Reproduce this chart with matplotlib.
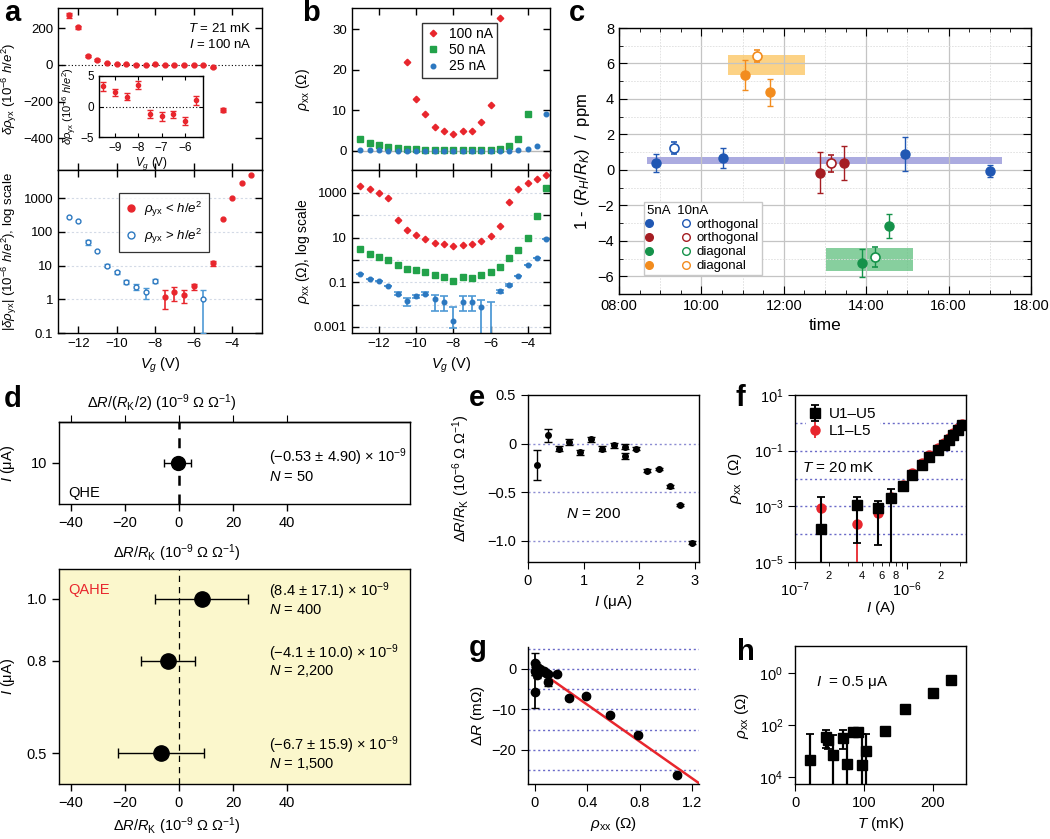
import numpy as np
import matplotlib
matplotlib.use('Agg')
import matplotlib.pyplot as plt
from matplotlib.ticker import FixedLocator, FuncFormatter, NullLocator, MultipleLocator
from matplotlib.legend_handler import HandlerTuple
from matplotlib.lines import Line2D

plt.rcParams['font.family'] = ['Liberation Sans', 'DejaVu Sans']
plt.rcParams['mathtext.fontset'] = 'custom'
plt.rcParams['mathtext.rm'] = 'Liberation Sans'
plt.rcParams['mathtext.it'] = 'Liberation Sans:italic'
plt.rcParams['mathtext.bf'] = 'Liberation Sans:bold'
plt.rcParams['mathtext.default'] = 'regular'
plt.rcParams['axes.linewidth'] = 1.0
plt.rcParams['axes.unicode_minus'] = True

# ---------------- data ----------------
# panel a
a_vg = [-12.5, -12, -11.5, -11, -10.5, -10, -9.5, -9, -8.5, -8, -7.5, -7, -6.5, -6, -5.5, -5, -4.5, -4, -3.5, -3]
a_drho = [270, 205, 50, 27, 10, 6.3, 3.3, 2.3, 1.6, 3.5, -1.2, -1.6, -1.3, -2.4, 1.0, -12, -245, -1000, -2750, -4800]
a_err = [12, 8, 6, 3, 1.2, 0.8, 0.7, 0.6, 0.6, 0.6, 0.7, 0.7, 0.6, 0.6, 0.8, 2, 10, 30, 60, 100]
a_abs_err = [0, 0, 8, 0, 1.0, 0.6, 0.5, 0.45, 0.55, 0.5, 0.7, 0.7, 0.55, 0.5, 0.899, 2.0, 0, 0, 0, 0]

# panel b
b_vg = [-13, -12.5, -12, -11.5, -11, -10.5, -10, -9.5, -9, -8.5, -8, -7.5, -7, -6.5, -6, -5.5, -5, -4.5, -4, -3.5, -3]
b_100 = [2000, 1560, 1000, 600, 65, 21.8, 12.7, 9.0, 5.8, 5.0, 4.1, 4.8, 5.0, 7.0, 11.3, 32.8, 400, 1500, 2800, 4400, 6600]
b_50 = [3.0, 1.9, 1.4, 0.97, 0.6, 0.40, 0.35, 0.30, 0.21, 0.17, 0.118, 0.166, 0.155, 0.22, 0.29, 0.49, 1.2, 2.9, 9.2, 98, 1670]
b_25 = [0.23, 0.14, 0.11, 0.07, 0.031, 0.014, 0.024, 0.031, 0.017, 0.013, 0.0018, 0.013, 0.013, 0.0077, 0.0003, 0.04, 0.074, 0.2, 0.58, 1.25, 9.0]
b_25_elo = [0, 0, 0, 0, 0.005, 0.0054, 0.004, 0.005, 0.012, 0.008, 0.0009, 0.008, 0.008, 0.00769, 0.000299, 0.006, 0.008, 0, 0, 0, 0]
b_25_ehi = [0, 0, 0, 0, 0.005, 0.005, 0.004, 0.005, 0.009, 0.011, 0.006, 0.011, 0.011, 0.0083, 0.0127, 0.006, 0.008, 0, 0, 0, 0]

# panel c (time in hours)
c_blue_t, c_blue_v, c_blue_e = [8.89, 10.52, 14.93, 17.01], [0.37, 0.67, 0.88, -0.08], [0.5, 0.57, 0.95, 0.35]
c_blue_ot, c_blue_ov, c_blue_oe = [9.33], [1.25], [0.33]
c_red_t, c_red_v, c_red_e = [12.88, 13.46], [-0.16, 0.39], [1.15, 0.98]
c_red_ot, c_red_ov, c_red_oe = [13.15], [0.37], [0.47]
c_green_t, c_green_v, c_green_e = [13.91, 14.55], [-5.26, -3.17], [0.78, 0.7]
c_green_ot, c_green_ov, c_green_oe = [14.22], [-4.92], [0.58]
c_orange_t, c_orange_v, c_orange_e = [11.06, 11.66], [5.34, 4.38], [0.85, 0.77]
c_orange_ot, c_orange_ov, c_orange_oe = [11.36], [6.43], [0.35]
c_band_blue = (8.69, 17.30, 0.35, 0.71)
c_band_orange = (10.65, 12.51, 5.36, 6.49)
c_band_green = (13.02, 15.14, -5.70, -4.43)
c_labels = ['orthogonal', 'orthogonal', 'diagonal', 'diagonal']

# panel d
d_qhe_I, d_qhe_val, d_qhe_err = [10], [-0.53], [4.90]
d_qahe_I = [1.0, 0.8, 0.5]
d_qahe_val = [8.4, -4.1, -6.7]
d_qahe_err = [17.1, 10.0, 15.9]
d_qahe_N = ['400', '2,200', '1,500']

# panel e
e_I = [0.16, 0.36, 0.55, 0.74, 0.94, 1.14, 1.34, 1.54, 1.74, 1.74, 1.95, 2.14, 2.36, 2.55, 2.74, 2.96]
e_val = [-0.22, 0.085, -0.05, 0.017, -0.09, 0.044, -0.05, -0.017, -0.03, -0.13, -0.05, -0.28, -0.26, -0.44, -0.63, -1.02]
e_err = [0.15, 0.07, 0.03, 0.03, 0.025, 0.025, 0.025, 0.025, 0.03, 0.03, 0.02, 0.015, 0.015, 0.02, 0.015, 0.015]

# panel f
f_I = [1.7e-7, 3.6e-7, 5.5e-7, 7.3e-7, 9.2e-7, 1.12e-6, 1.37e-6, 1.6e-6, 1.9e-6, 2.15e-6, 2.4e-6, 2.6e-6, 2.9e-6, 3.15e-6]
f_U = [1.5e-4, 1.1e-3, 8.7e-4, 2.0e-3, 5.3e-3, 0.0138, 0.031, 0.06, 0.11, 0.166, 0.25, 0.38, 0.575, 0.81]
f_U_elo = [1.4999e-4, 1.05e-3, 8.3e-4, 1.9999e-3, 0, 0, 0, 0, 0, 0, 0, 0, 0, 0]
f_U_ehi = [1.95e-3, 1.0e-3, 7.3e-4, 2.3e-3, 0, 0, 0, 0, 0, 0, 0, 0, 0, 0]
f_L = [8.7e-4, 2.3e-4, 5.7e-4, 2.2e-3, 6.0e-3, 0.0155, 0.035, 0.068, 0.123, 0.186, 0.28, 0.425, 0.64, 0.9]
f_L_elo = [0, 2.2999e-4, 4.7e-4, 0, 0, 0, 0, 0, 0, 0, 0, 0, 0, 0]
f_L_ehi = [0, 5e-4, 5e-4, 0, 0, 0, 0, 0, 0, 0, 0, 0, 0, 0]

# panel g
g_rho = [0.0, 0.0, 0.005, 0.01, 0.015, 0.02, 0.03, 0.04, 0.05, 0.07, 0.09, 0.1, 0.1, 0.17, 0.26, 0.39, 0.57, 0.79, 1.08]
g_dR = [1.5, -5.6, -0.5, 0.8, -1.5, 0.3, -0.8, 0.0, -0.6, -0.4, -1.0, -3.3, -1.3, -1.2, -7.2, -6.7, -11.4, -16.3, -26.3]
g_err = [2.5, 4.0, 1.0, 1.0, 0.8, 0.8, 0.6, 0.5, 0.5, 0.4, 0.4, 0.8, 0.5, 0.4, 0.4, 0.4, 0.4, 0.4, 0.4]
g_fit_slope = -22.8
g_fit_intercept = 0.3
g_fit_x = [0.0, 1.25]

# panel h
h_T = [21.7, 45, 48, 54.6, 70, 75, 83.6, 91.8, 97.6, 103, 130.4, 160, 200.5, 225.6]
h_rho = [4.4e-4, 3.6e-3, 2.7e-3, 7.2e-4, 3.2e-3, 3.2e-4, 5.4e-3, 5.4e-3, 2.8e-4, 1.0e-3, 5.9e-3, 0.04, 0.175, 0.52]
h_elo = [4.3999e-4, 2.3e-3, 1.5e-3, 7.1999e-4, 2.0e-3, 3.1999e-4, 0, 0, 2.7999e-4, 9.999e-4, 0, 0, 0, 0]
h_ehi = [4.0e-3, 2.7e-3, 1.5e-3, 3.3e-3, 3.1e-3, 3.0e-3, 0, 0, 4.1e-3, 3.4e-3, 0, 0, 0, 0]

# ---------------- figure ----------------
W, H = 1050, 839
fig = plt.figure(figsize=(10.5, 8.39), dpi=100)


def add_ax(x0, y0, x1, y1, **kw):
    return fig.add_axes([x0 / W, 1 - y1 / H, (x1 - x0) / W, (y1 - y0) / H], **kw)


def letter(x, y, s):
    fig.text(x / W, 1 - y / H, s, fontsize=21, fontweight='bold', va='baseline', ha='left')


red = '#e8262d'
blue = '#2c78c0'
blue_l = '#4f9ad6'
green = '#22a24a'
dotc = '#8c8cd2'
gridfaint = '#d3dae6'

# ---------- panel a ----------
axa1 = add_ax(58, 8, 262, 170)
axa2 = add_ax(58, 170, 262, 333)
for ax in (axa1, axa2):
    ax.tick_params(direction='in', top=True, right=True, length=5, labelsize=9.5, width=1)
    ax.set_xlim(-13.05, -2.45)
    ax.xaxis.set_major_locator(FixedLocator([-12, -10, -8, -6, -4]))
    ax.xaxis.set_minor_locator(NullLocator())
axa1.tick_params(labelbottom=False)
axa1.set_ylim(-572, 310)
axa1.set_yticks([-400, -200, 0, 200])
axa1.axhline(0, color='k', ls=(0, (1, 2)), lw=0.8, zorder=1)
axa1.errorbar(a_vg, a_drho, yerr=a_err, fmt='o', color=red, ms=3.5, capsize=2.5, elinewidth=1, capthick=1, zorder=3)
axa1.set_ylabel(r'$\mathit{\delta\rho}_{yx}$ (10$^{-6}$ $\mathit{h/e}^{2}$)', fontsize=9.5)
axa1.yaxis.set_label_coords(-0.19, 0.5)
axa1.text(0.95, 0.875, r'$\mathit{T}$ = 21 mK', transform=axa1.transAxes, ha='right', va='center', fontsize=9.5)
axa1.text(0.95, 0.775, r'$\mathit{I}$ = 100 nA', transform=axa1.transAxes, ha='right', va='center', fontsize=9.5)

axin = add_ax(99, 76, 203, 137)
axin.set_facecolor('white')
axin.set_xlim(-9.69, -5.22)
axin.set_ylim(-5, 5)
axin.set_yticks([-5, 0, 5])
axin.set_xticks([-9, -8, -7, -6])
axin.tick_params(direction='in', length=3, labelsize=8.5, top=True, right=True)
axin.axhline(0, color='k', ls=(0, (1, 2)), lw=0.8, zorder=1)
in_idx = [i for i, v in enumerate(a_vg) if -9.6 <= v <= -5.4]
axin.errorbar([a_vg[i] for i in in_idx], [a_drho[i] for i in in_idx], yerr=[a_err[i] for i in in_idx],
              fmt='o', color=red, ms=3, capsize=2.2, elinewidth=1, zorder=3)
axin.set_ylabel(r'$\mathit{\delta\rho}_{yx}$ (10$^{-6}$ $\mathit{h/e}^{2}$)', fontsize=8, labelpad=1)
axin.set_xlabel(r'$\mathit{V_g}$ (V)', fontsize=8.5, labelpad=1)

axa2.set_yscale('log')
axa2.set_ylim(0.1, 6800)
axa2.yaxis.set_major_locator(FixedLocator([0.1, 1, 10, 100, 1000]))
axa2.yaxis.set_major_formatter(FuncFormatter(lambda v, p: '%g' % v))
axa2.yaxis.set_minor_locator(NullLocator())
for d in [1, 10, 100, 1000]:
    axa2.axhline(d, color=gridfaint, lw=0.8, ls=(0, (2, 2)), zorder=0)
for i, v in enumerate(a_vg):
    val = abs(a_drho[i])
    e = a_abs_err[i]
    if a_drho[i] > 0:
        axa2.errorbar([v], [val], yerr=[[e], [e]] if e else None, fmt='o', ms=3.5, mfc='white', mec=blue,
                      mew=1, color=blue_l, capsize=2.5, elinewidth=1.2, zorder=3)
    else:
        axa2.errorbar([v], [val], yerr=[[e], [e]] if e else None, fmt='o', ms=3.5, color=red,
                      capsize=2.5, elinewidth=1.2, zorder=3)
axa2.set_xlabel(r'$\mathit{V_g}$ (V)', fontsize=10.5)
axa2.set_ylabel(r'|$\mathit{\delta\rho}_{yx}$| (10$^{-6}$ $\mathit{h/e}^{2}$), log scale', fontsize=9.5)
axa2.yaxis.set_label_coords(-0.19, 0.5)
hl = [Line2D([], [], marker='o', ls='none', color=red, ms=5),
      Line2D([], [], marker='o', ls='none', mfc='white', mec=blue, ms=5)]
lg = axa2.legend(hl, [r'$\mathit{\rho}_{yx}$ < $\mathit{h/e}^{2}$', r'$\mathit{\rho}_{yx}$ > $\mathit{h/e}^{2}$'],
                 loc='upper left', bbox_to_anchor=(0.265, 0.9), fontsize=9.5, frameon=True, fancybox=False,
                 edgecolor='k', handlelength=0.8, handletextpad=0.6, borderpad=0.5, labelspacing=0.6)
lg.get_frame().set_linewidth(0.9)

# ---------- panel b ----------
axb1 = add_ax(352, 8, 550, 170)
axb2 = add_ax(352, 170, 550, 333)
for ax in (axb1, axb2):
    ax.tick_params(direction='in', top=True, right=True, length=5, labelsize=9.5, width=1)
    ax.set_xlim(-13.45, -2.8)
    ax.xaxis.set_major_locator(FixedLocator([-12, -10, -8, -6, -4]))
    ax.xaxis.set_minor_locator(NullLocator())
axb1.tick_params(labelbottom=False)
axb1.set_ylim(-4.7, 35.2)
axb1.set_yticks([0, 10, 20, 30])
axb1.axhline(0, color='#b8b8b8', lw=1.0, zorder=0)
m100 = dict(marker='D', ls='none', color=red, ms=3.3)
m50 = dict(marker='s', ls='none', color=green, ms=3.8)
m25 = dict(marker='o', ls='none', color=blue, ms=3.3)
axb1.plot(b_vg, b_100, label='100 nA', **m100)
axb1.plot(b_vg, b_50, label='50 nA', **m50)
axb1.plot(b_vg, b_25, label='25 nA', **m25)
lb = axb1.legend(loc='upper left', bbox_to_anchor=(0.32, 0.95), fontsize=10, frameon=True, fancybox=False,
                 edgecolor='k', handlelength=1.0, handletextpad=0.6, borderpad=0.3, labelspacing=0.15, markerscale=1.0)
lb.get_frame().set_linewidth(1.0)
axb1.set_ylabel(r'$\mathit{\rho}_{xx}$ ($\Omega$)', fontsize=10)
axb1.yaxis.set_label_coords(-0.2, 0.5)

axb2.set_yscale('log')
axb2.set_ylim(10 ** -3.27, 10 ** 4.03)
axb2.yaxis.set_major_locator(FixedLocator([1e-3, 1e-2, 1e-1, 1, 10, 100, 1e3]))
axb2.yaxis.set_major_formatter(FuncFormatter(lambda v, p: ('%g' % v) if round(np.log10(v)) % 2 != 0 else ''))
axb2.yaxis.set_minor_locator(NullLocator())
for d in [1e-3, 1e-2, 1e-1, 1, 10, 100, 1e3]:
    axb2.axhline(d, color=gridfaint, lw=0.8, ls=(0, (2, 2)), zorder=0)
axb2.plot(b_vg, b_100, **m100)
axb2.plot(b_vg, b_50, **m50)
axb2.errorbar(b_vg, b_25, yerr=[b_25_elo, b_25_ehi], fmt='o', color=blue, ms=3.3, ecolor=blue_l,
              elinewidth=1.3, capsize=3, capthick=1.2)
axb2.set_xlabel(r'$\mathit{V_g}$ (V)', fontsize=10.5)
axb2.set_ylabel(r'$\mathit{\rho}_{xx}$ ($\Omega$), log scale', fontsize=10)
axb2.yaxis.set_label_coords(-0.2, 0.5)

# ---------- panel c ----------
axc = add_ax(619, 28, 1031, 294)
axc.set_xlim(8, 18)
axc.set_ylim(-7, 8)
axc.xaxis.set_major_locator(MultipleLocator(2))
axc.xaxis.set_minor_locator(MultipleLocator(0.5))
axc.yaxis.set_major_locator(MultipleLocator(2))
axc.yaxis.set_minor_locator(MultipleLocator(1))
axc.xaxis.set_major_formatter(FuncFormatter(lambda v, p: '%02d:00' % int(round(v))))
axc.tick_params(which='both', direction='in', top=True, right=True, labelsize=10.5)
axc.tick_params(which='major', length=6)
axc.tick_params(which='minor', length=3)
axc.grid(which='major', color='#c4c4c4', lw=0.9)
axc.grid(which='minor', axis='y', color='#dedede', lw=0.6, ls=(0, (2, 1.5)))
for hh in [9, 11, 13, 15, 17]:
    axc.axvline(hh, color='#dedede', lw=0.6, ls=(0, (2, 1.5)), zorder=0)
for band, col in [(c_band_blue, '#8f8fd6'), (c_band_orange, '#fbc45c'), (c_band_green, '#5fc07e')]:
    axc.fill_between([band[0], band[1]], band[2], band[3], color=col, alpha=0.75, lw=0, zorder=1)
c_cols = ['#2057b3', '#a51d22', '#15924a', '#f28c1e']
series = [(c_blue_t, c_blue_v, c_blue_e, c_blue_ot, c_blue_ov, c_blue_oe),
          (c_red_t, c_red_v, c_red_e, c_red_ot, c_red_ov, c_red_oe),
          (c_green_t, c_green_v, c_green_e, c_green_ot, c_green_ov, c_green_oe),
          (c_orange_t, c_orange_v, c_orange_e, c_orange_ot, c_orange_ov, c_orange_oe)]
handles = []
for col, (t, v, e, ot, ov, oe) in zip(c_cols, series):
    axc.errorbar(t, v, yerr=e, fmt='o', color=col, ms=6.5, capsize=2.5, elinewidth=1, capthick=1, zorder=4)
    axc.errorbar(ot, ov, yerr=oe, fmt='o', color=col, mfc='white', mec=col, ms=6.5, mew=1.2, capsize=2.5,
                 elinewidth=1, capthick=1, zorder=4)
    handles.append((Line2D([], [], marker='o', ls='none', color=col, ms=5.5),
                    Line2D([], [], marker='o', ls='none', mfc='white', mec=col, ms=5.5)))
lc = axc.legend(handles, c_labels, handler_map={tuple: HandlerTuple(ndivide=None, pad=2.6)},
                title='5nA  10nA', title_fontsize=9.5, fontsize=9.5, loc='lower left',
                bbox_to_anchor=(0.045, 0.045), handlelength=3.0, handletextpad=0.7, frameon=True,
                fancybox=False, edgecolor='#c8c8c8', framealpha=1, borderpad=0.25, labelspacing=0.12)
lc._legend_box.align = 'left'
axc.set_ylabel(r'1 - ($\mathit{R_H}$/$\mathit{R_K}$)  /  ppm', fontsize=12)
axc.set_xlabel('time', fontsize=12.5)

# ---------- panel d ----------
axd1 = add_ax(59, 422, 410, 504)
axd2 = add_ax(59, 569, 410, 784)
for ax in (axd1, axd2):
    ax.set_xlim(-44.4, 85.5)
    ax.set_xticks([-40, -20, 0, 20, 40])
    ax.tick_params(direction='out', length=5, labelsize=10.5, width=1)
    ax.xaxis.set_minor_locator(NullLocator())
axd1.set_ylim(9, 11)
axd1.set_yticks([10])
axd1.axvline(0, color='k', ls=(0, (4, 3.5)), lw=1.8, zorder=1)
axd1.errorbar(d_qhe_val, d_qhe_I, xerr=d_qhe_err, fmt='o', color='k', ms=10, capsize=3, elinewidth=1, zorder=3)
sec = axd1.secondary_xaxis('top')
sec.set_xticks([-40, -20, 0, 20, 40])
sec.tick_params(direction='out', length=5, labeltop=False)
fig.text(162 / W, 1 - 403 / H, r'$\Delta \mathit{R}$/($\mathit{R}_{K}$/2) (10$^{-9}$ $\Omega$ $\Omega^{-1}$)',
         ha='center', va='center', fontsize=10.5)
axd1.text(33.5, 10.15, r'($-$0.53 ± 4.90) × 10$^{-9}$', fontsize=10.5, va='center')
axd1.text(33.5, 9.66, r'$\mathit{N}$ = 50', fontsize=10.5, va='center')
axd1.text(-41, 9.27, 'QHE', fontsize=10.5, va='center')
axd1.set_xlabel(r'$\Delta \mathit{R}$/$\mathit{R}_{K}$ (10$^{-9}$ $\Omega$ $\Omega^{-1}$)', fontsize=10.5)
axd1.xaxis.set_label_coords(0.336, -0.47)
axd1.set_ylabel(r'$\mathit{I}$ (μA)', fontsize=10.5)
axd1.yaxis.set_label_coords(-0.12, 0.5)

axd2.set_facecolor('#fbf7cc')
axd2.set_ylim(0.40, 1.097)
axd2.set_yticks([0.5, 0.8, 1.0])
axd2.yaxis.set_major_formatter(FuncFormatter(lambda v, p: '%.1f' % v))
axd2.axvline(0, color='k', ls=(0, (5, 4)), lw=0.9, zorder=1)
axd2.errorbar(d_qahe_val, d_qahe_I, xerr=d_qahe_err, fmt='o', color='k', ms=11, capsize=3.5, elinewidth=1,
              zorder=3)
for I, v, e, n in zip(d_qahe_I, d_qahe_val, d_qahe_err, d_qahe_N):
    sv = ('%.1f' % v).replace('-', '$-$')
    axd2.text(33.5, I + 0.025, r'(%s ± %.1f) × 10$^{-9}$' % (sv, e), fontsize=10.5, va='center')
    axd2.text(33.5, I - 0.035, r'$\mathit{N}$ = %s' % n, fontsize=10.5, va='center')
axd2.text(-41, 1.03, 'QAHE', fontsize=10.5, va='center', color='#e8262d')
axd2.set_xlabel(r'$\Delta \mathit{R}$/$\mathit{R}_{K}$ (10$^{-9}$ $\Omega$ $\Omega^{-1}$)', fontsize=10.5)
axd2.xaxis.set_label_coords(0.336, -0.145)
axd2.set_ylabel(r'$\mathit{I}$ (μA)', fontsize=10.5)
axd2.yaxis.set_label_coords(-0.12, 0.5)

# ---------- panel e ----------
axe = add_ax(528, 395, 699, 562)
axe.set_xlim(0, 3.08)
axe.set_ylim(-1.216, 0.5)
axe.set_xticks([0, 1, 2, 3])
axe.set_yticks([-1.0, -0.5, 0, 0.5])
axe.yaxis.set_major_formatter(FuncFormatter(lambda v, p: ('%g' % v if v in (0, 0.5) else '%.1f' % v).replace('-', '−')))
axe.tick_params(direction='out', length=5, labelsize=10.5)
for yv in [0, -0.5, -1.0]:
    axe.axhline(yv, color=dotc, ls=(0, (1.5, 2)), lw=1.0, zorder=0)
axe.errorbar(e_I, e_val, yerr=e_err, fmt='o', color='k', ms=4, capsize=3, elinewidth=1, capthick=1)
axe.text(0.68, -0.72, r'$\mathit{N}$ = 200', fontsize=11, va='center')
axe.set_ylabel(r'$\Delta \mathit{R}$/$\mathit{R}_{K}$ (10$^{-6}$ $\Omega$ $\Omega^{-1}$)', fontsize=10.5)
axe.yaxis.set_label_coords(-0.33, 0.5)
axe.set_xlabel(r'$\mathit{I}$ (μA)', fontsize=11)

# ---------- panel f ----------
axf = add_ax(795, 395, 966, 562)
axf.set_xscale('log')
axf.set_yscale('log')
axf.set_xlim(1e-7, 3.4e-6)
axf.set_ylim(1e-5, 1e1)
axf.yaxis.set_major_locator(FixedLocator([1e-5, 1e-3, 1e-1, 1e1]))
axf.yaxis.set_minor_locator(NullLocator())
axf.yaxis.set_major_formatter(FuncFormatter(lambda v, p: r'$10^{%d}$' % round(np.log10(v))))
axf.xaxis.set_major_locator(FixedLocator([1e-7, 1e-6]))
axf.xaxis.set_major_formatter(FuncFormatter(lambda v, p: r'$10^{%d}$' % round(np.log10(v))))
minor_x = [2e-7, 3e-7, 4e-7, 5e-7, 6e-7, 7e-7, 8e-7, 9e-7, 2e-6, 3e-6]
minor_lab = ['2', '', '4', '', '6', '', '8', '', '2', '']
axf.xaxis.set_minor_locator(FixedLocator(minor_x))
axf.xaxis.set_minor_formatter(FuncFormatter(
    lambda v, p: minor_lab[int(np.argmin([abs(np.log10(v) - np.log10(m)) for m in minor_x]))]))
axf.tick_params(which='major', direction='out', length=5, labelsize=10.5, pad=8)
axf.tick_params(axis='y', which='major', pad=3)
axf.tick_params(which='minor', direction='out', length=3, labelsize=8)
for d in [1, 1e-1, 1e-2, 1e-3, 1e-4]:
    axf.axhline(d, color='#6a6ac8', ls=(0, (1.5, 2)), lw=1.0, zorder=0)
axf.errorbar(f_I, f_L, yerr=[f_L_elo, f_L_ehi], fmt='o', color='#e8262d', ms=6.5, elinewidth=1.3, capsize=0,
             label='L1–L5', zorder=3)
axf.errorbar(f_I, f_U, yerr=[f_U_elo, f_U_ehi], fmt='s', color='k', ms=6.5, elinewidth=1.5, capsize=3,
             capthick=1.3, label='U1–U5', zorder=4)
hf, lf = axf.get_legend_handles_labels()
lgf = axf.legend(hf[::-1], lf[::-1], loc='upper left', fontsize=11, frameon=True, framealpha=1, edgecolor='none',
                 handlelength=0.8, handletextpad=0.5, borderpad=0.2, labelspacing=0.2, bbox_to_anchor=(0.02, 0.99))
axf.text(0.04, 0.565, r'$\mathit{T}$ = 20 mK', transform=axf.transAxes, fontsize=11, va='center',
         bbox=dict(facecolor='white', edgecolor='none', pad=0.5))
axf.set_ylabel(r'$\mathit{\rho}_{xx}$  ($\Omega$)', fontsize=11)
axf.yaxis.set_label_coords(-0.3, 0.5)
axf.set_xlabel(r'$\mathit{I}$ (A)', fontsize=11, labelpad=0)

# ---------- panel g ----------
axg = add_ax(528, 647, 699, 784)
axg.spines['top'].set_visible(False)
axg.spines['right'].set_visible(False)
axg.set_xlim(-0.05, 1.25)
axg.set_ylim(-28.4, 5.4)
axg.set_xticks([0, 0.4, 0.8, 1.2])
axg.xaxis.set_major_formatter(FuncFormatter(lambda v, p: '%g' % round(v, 1)))
axg.set_yticks([-20, -10, 0])
axg.tick_params(direction='out', length=5, labelsize=10.5)
for yv in [5, 0, -5, -10, -15, -20, -25]:
    axg.axhline(yv, color='#6a6ac8', ls=(0, (1.5, 2)), lw=1.0, zorder=0)
g_fit_y = [g_fit_intercept + g_fit_slope * x for x in g_fit_x]
axg.plot(g_fit_x, g_fit_y, color='#e8262d', lw=1.8, zorder=2)
axg.errorbar(g_rho, g_dR, yerr=g_err, fmt='o', color='k', ms=6, capsize=3, elinewidth=1.3, zorder=3)
axg.set_ylabel(r'$\Delta \mathit{R}$ (m$\Omega$)', fontsize=11)
axg.yaxis.set_label_coords(-0.24, 0.5)
axg.set_xlabel(r'$\mathit{\rho}_{xx}$ ($\Omega$)', fontsize=11)

# ---------- panel h ----------
axh = add_ax(795, 646, 966, 784)
axh.set_yscale('log')
axh.set_xlim(0, 248)
axh.set_ylim(10 ** -4.27, 10 ** 1.04)
axh.yaxis.set_major_locator(FixedLocator([1e-4, 1e-2, 1]))
axh.yaxis.set_major_formatter(FuncFormatter(lambda v, p: r'$10^{%d}$' % abs(round(np.log10(v)))))
axh.yaxis.set_minor_locator(NullLocator())
axh.set_xticks([0, 100, 200])
axh.tick_params(direction='out', length=5, labelsize=10.5)
axh.errorbar(h_T, h_rho, yerr=[h_elo, h_ehi], fmt='s', color='k', ms=7, capsize=3, elinewidth=1.6, capthick=1.3)
axh.text(30, 10 ** -0.38, r'$\mathit{I}$  = 0.5 μA', fontsize=11, va='center')
axh.set_ylabel(r'$\mathit{\rho}_{xx}$ ($\Omega$)', fontsize=11)
axh.yaxis.set_label_coords(-0.26, 0.5)
axh.set_xlabel(r'$\mathit{T}$ (mK)', fontsize=11)

# ---------- panel letters ----------
letter(4, 21, 'a')
letter(302, 21, 'b')
letter(569, 21, 'c')
letter(4, 407, 'd')
letter(469, 406, 'e')
letter(736, 406, 'f')
letter(469, 656, 'g')
letter(737, 660, 'h')

fig.savefig('out.png', dpi=100, facecolor='white')
